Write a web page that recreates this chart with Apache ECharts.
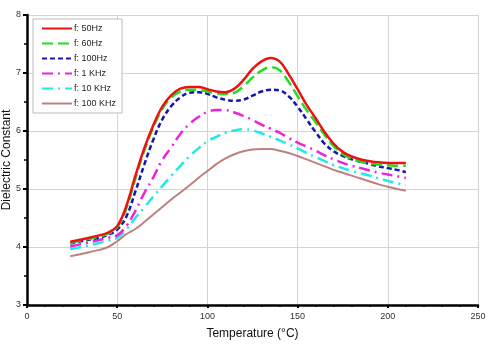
<!DOCTYPE html>
<html>
<head>
<meta charset="utf-8">
<script src="https://cdn.jsdelivr.net/npm/echarts@6/dist/echarts.min.js"></script>
<style>
  html, body { margin: 0; padding: 0; background: #ffffff; }
  #chart { width: 491px; height: 347px; }
</style>
</head>
<body>
<div id="chart"></div>
<script>
// Temperature points (°C) shared by all frequency curves
const temperature = [24, 30, 40, 45, 50, 55, 60, 65, 70, 75, 80, 85, 90, 95, 100, 105, 110, 115, 120, 125,
  130, 135, 140, 145, 150, 155, 160, 165, 170, 175, 180, 185, 190, 195, 200, 205, 210];

// Dielectric constant per measuring frequency
const f50Hz = [4.09, 4.13, 4.20, 4.25, 4.36, 4.70, 5.22, 5.70, 6.10, 6.42, 6.62, 6.73, 6.76, 6.76, 6.72, 6.68,
  6.67, 6.73, 6.88, 7.07, 7.20, 7.26, 7.20, 6.98, 6.72, 6.45, 6.22, 5.98, 5.78, 5.64, 5.56, 5.51, 5.48, 5.46,
  5.45, 5.45, 5.45];
const f60Hz = [4.07, 4.11, 4.18, 4.23, 4.34, 4.66, 5.17, 5.66, 6.06, 6.38, 6.58, 6.68, 6.71, 6.71, 6.68, 6.65,
  6.64, 6.66, 6.77, 6.92, 7.04, 7.10, 7.05, 6.85, 6.60, 6.36, 6.15, 5.93, 5.74, 5.60, 5.52, 5.47, 5.44, 5.42,
  5.41, 5.40, 5.40];
const f100Hz = [4.06, 4.10, 4.16, 4.21, 4.30, 4.52, 4.95, 5.42, 5.85, 6.20, 6.43, 6.58, 6.66, 6.67, 6.64, 6.58,
  6.54, 6.52, 6.54, 6.61, 6.68, 6.71, 6.70, 6.60, 6.42, 6.20, 5.98, 5.78, 5.65, 5.57, 5.51, 5.47, 5.43, 5.39,
  5.36, 5.33, 5.29];
const f1kHz = [4.01, 4.05, 4.12, 4.16, 4.20, 4.36, 4.62, 4.93, 5.20, 5.50, 5.72, 5.95, 6.12, 6.24, 6.33, 6.36,
  6.36, 6.32, 6.26, 6.19, 6.11, 6.04, 5.97, 5.88, 5.80, 5.73, 5.66, 5.58, 5.51, 5.45, 5.40, 5.36, 5.32, 5.28,
  5.25, 5.22, 5.19];
const f10kHz = [3.96, 4.00, 4.07, 4.11, 4.16, 4.30, 4.50, 4.68, 4.87, 5.05, 5.23, 5.40, 5.56, 5.70, 5.82, 5.90,
  5.97, 6.01, 6.03, 6.01, 5.96, 5.90, 5.84, 5.77, 5.70, 5.62, 5.55, 5.48, 5.41, 5.36, 5.31, 5.27, 5.23, 5.18,
  5.14, 5.10, 5.07];
const f100kHz = [3.84, 3.88, 3.95, 4.00, 4.10, 4.22, 4.31, 4.43, 4.56, 4.69, 4.82, 4.94, 5.06, 5.19, 5.31, 5.43,
  5.53, 5.60, 5.65, 5.68, 5.69, 5.69, 5.66, 5.62, 5.57, 5.51, 5.45, 5.39, 5.33, 5.28, 5.23, 5.18, 5.13, 5.08,
  5.04, 5.00, 4.97];

const seriesNames = ['f: 50Hz', 'f: 60Hz', 'f: 100Hz', 'f: 1 KHz', 'f: 10 KHz', 'f: 100 KHz'];
const seriesValues = [f50Hz, f60Hz, f100Hz, f1kHz, f10kHz, f100kHz];
const seriesStyles = [
  { color: '#ee1111', width: 2.5, type: 'solid' },
  { color: '#22dd22', width: 2.5, type: [11, 5] },
  { color: '#1515b5', width: 2.5, type: [5, 3] },
  { color: '#ee22dd', width: 2.5, type: [11, 5, 2, 5] },
  { color: '#22e8e8', width: 2.5, type: [11, 5, 2, 5] },
  { color: '#bf8080', width: 2, type: 'solid' }
];

const font = 'Liberation Sans, Arial, sans-serif';

const chart = echarts.init(document.getElementById('chart'), null, { renderer: 'canvas' });

chart.setOption({
  animation: false,
  backgroundColor: '#ffffff',
  grid: { left: 27, right: 13, top: 15, bottom: 42, containLabel: false, outerBoundsMode: 'none' },
  legend: {
    left: 33, top: 19,
    orient: 'vertical',
    itemWidth: 30, itemHeight: 10, itemGap: 6,
    padding: [5, 6, 5, 8],
    backgroundColor: '#ffffff',
    borderColor: '#bbbbbb', borderWidth: 1,
    itemStyle: { opacity: 0 },
    textStyle: { fontFamily: font, fontSize: 9, color: '#222', padding: [0, 0, 0, -3] },
    data: seriesNames
  },
  xAxis: {
    type: 'value', min: 0, max: 250, interval: 50,
    name: 'Temperature (°C)', nameLocation: 'middle', nameGap: 23, nameMoveOverlap: false,
    nameTextStyle: { fontFamily: font, fontSize: 12, color: '#111' },
    axisLine: { show: true, onZero: false, lineStyle: { color: '#000', width: 2.5 } },
    axisTick: { show: true, length: 3, lineStyle: { color: '#000', width: 2 } },
    minorTick: { show: true, splitNumber: 5, length: 2, lineStyle: { color: '#000', width: 1.5 } },
    axisLabel: { fontFamily: font, fontSize: 9, color: '#333', margin: 7 },
    splitLine: { show: true, lineStyle: { color: '#d4d4d4', width: 1 } }
  },
  yAxis: {
    type: 'value', min: 3, max: 8, interval: 1,
    name: 'Dielectric Constant', nameLocation: 'middle', nameGap: 14, nameMoveOverlap: false,
    nameTextStyle: { fontFamily: font, fontSize: 12, color: '#111' },
    axisLine: { show: true, onZero: false, lineStyle: { color: '#000', width: 2.5 } },
    axisTick: { show: true, length: 4, lineStyle: { color: '#000', width: 2 } },
    minorTick: { show: true, splitNumber: 2, length: 3, lineStyle: { color: '#000', width: 1.5 } },
    axisLabel: { fontFamily: font, fontSize: 9, color: '#333', margin: 6 },
    splitLine: { show: true, lineStyle: { color: '#d4d4d4', width: 1 } }
  },
  series: seriesNames.map((name, i) => ({
    name: name,
    type: 'line',
    smooth: 0.4,
    showSymbol: false,
    symbol: 'none',
    color: seriesStyles[i].color,
    lineStyle: {
      color: seriesStyles[i].color,
      width: seriesStyles[i].width,
      type: seriesStyles[i].type
    },
    z: 10 - i,
    data: temperature.map((t, j) => [t, seriesValues[i][j]])
  }))
});
</script>
</body>
</html>
